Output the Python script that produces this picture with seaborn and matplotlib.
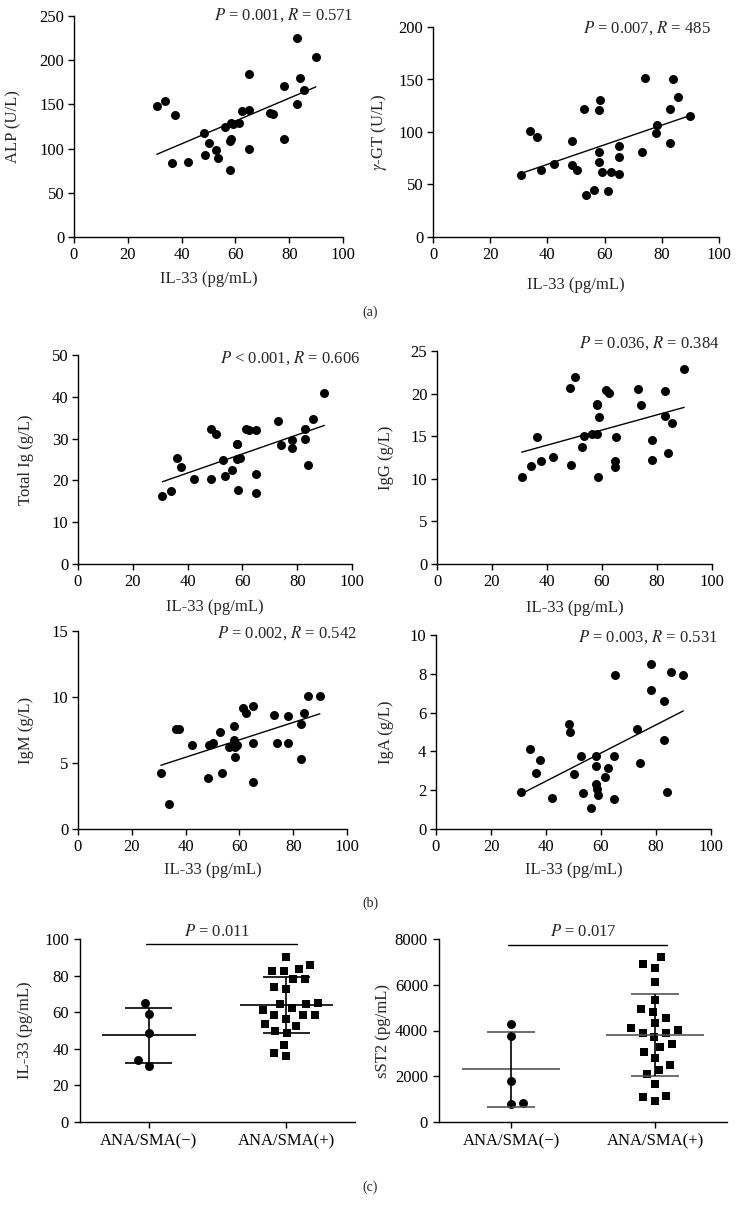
import numpy as np
import pandas as pd
import matplotlib
matplotlib.use('Agg')
from matplotlib import pyplot as plt
from matplotlib.path import Path
import seaborn as sns

# IL-33 (pg/mL), shared x for the scatter panels
il33 = [30.8, 34.0, 36.3, 37.7, 42.3, 48.5, 48.6, 50.2, 52.8, 53.6,
        56.2, 58.0, 58.0, 58.2, 58.5, 59.0, 61.3, 62.4, 64.9, 64.9,
        65.1, 73.0, 74.0, 78.1, 78.2, 82.8, 82.8, 83.9, 85.6, 89.9]

alp = [148.3, 154.4, 83.6, 138.2, 84.3, 117.1, 93.0, 106.6, 97.9, 88.9,
       124.2, 75.7, 108.1, 110.7, 129.5, 128.0, 129.5, 142.3, 184.5, 143.4,
       99.4, 140.1, 139.3, 110.7, 170.9, 225.5, 150.6, 179.6, 166.4, 204.1]
ggt = [58.7, 101.0, 94.9, 63.8, 69.2, 91.1, 68.6, 64.1, 121.9, 40.0,
       45.1, 121.0, 71.4, 81.3, 130.2, 62.2, 43.8, 62.2, 86.3, 76.2,
       60.3, 80.6, 151.7, 98.7, 106.7, 122.2, 89.5, 150.8, 133.7, 115.6]
total_ig = [16.3, 17.5, 25.3, 23.1, 20.4, 32.3, 20.4, 31.2, 24.8, 21.0,
            22.4, 28.8, 28.6, 25.1, 17.6, 25.4, 32.3, 32.0, 21.6, 17.1,
            32.1, 34.3, 28.5, 27.8, 29.6, 32.2, 29.8, 23.7, 34.8, 40.8]
igg = [10.25, 11.5, 14.9, 12.05, 12.5, 20.6, 11.6, 21.9, 13.7, 15.0,
       15.2, 18.8, 18.7, 15.2, 10.2, 17.3, 20.4, 20.1, 12.1, 11.4,
       14.9, 20.5, 18.7, 12.2, 14.5, 20.3, 17.4, 13.0, 16.6, 22.9]
igm = [4.26, 1.89, 7.54, 7.54, 6.38, 3.88, 6.38, 6.50, 7.36, 4.26,
       6.23, 7.81, 6.73, 6.23, 5.44, 6.35, 9.20, 8.80, 9.33, 6.50,
       3.58, 8.60, 6.50, 6.55, 8.55, 7.92, 5.29, 8.80, 10.11, 10.08]
iga = [1.92, 4.14, 2.90, 3.54, 1.62, 5.40, 4.98, 2.84, 3.75, 1.87,
       1.10, 3.25, 2.34, 3.75, 2.06, 1.74, 2.70, 3.14, 3.75, 1.53,
       7.96, 5.15, 3.38, 7.16, 8.52, 6.60, 4.60, 1.91, 8.11, 7.96]

# group comparison (panel c)
groups = ['ANA/SMA(\u2212)', 'ANA/SMA(+)']
il33_neg = [65.1, 58.9, 48.4, 33.8, 30.7]
il33_pos = [90.0, 85.6, 83.8, 82.7, 82.7, 78.1, 78.1, 73.7, 72.6, 64.4,
            64.4, 65.0, 61.1, 62.2, 58.2, 58.2, 58.6, 56.4, 53.5, 52.7,
            50.0, 48.4, 42.2, 37.8, 35.9]
sst2_neg = [4300, 3750, 1800, 800, 850]
sst2_pos = [7210, 6900, 6750, 6100, 5340, 4930, 4820, 4550, 4310, 4120,
            4030, 3900, 3900, 3710, 3400, 3260, 3050, 2790, 2480, 2290,
            2090, 1680, 1150, 1080, 900]

sns.set_style('ticks')
plt.rcParams['font.family'] = ['Liberation Serif', 'DejaVu Serif']
plt.rcParams['mathtext.fontset'] = 'stix'
plt.rcParams['axes.linewidth'] = 1.0
plt.rcParams['xtick.major.size'] = 4
plt.rcParams['ytick.major.size'] = 4
plt.rcParams['xtick.major.width'] = 1.0
plt.rcParams['ytick.major.width'] = 1.0
plt.rcParams['xtick.color'] = 'black'
plt.rcParams['ytick.color'] = 'black'
plt.rcParams['axes.edgecolor'] = 'black'

W, H = 741, 1206
fig = plt.figure(figsize=(W / 100, H / 100), dpi=100)
FS = 12


def padded_marker(shape, k=0.6):
    # marker drawn at k of its nominal size, so the swarm keeps gaps
    # between points like the column scatter in the source figure
    if shape == 'o':
        core = Path.circle((0, 0), k)
    else:
        core = Path([(-k, -k), (k, -k), (k, k), (-k, k), (-k, -k)],
                    [Path.MOVETO, Path.LINETO, Path.LINETO, Path.LINETO,
                     Path.CLOSEPOLY])
    pad = Path([(-1, -1), (1, 1)], [Path.MOVETO, Path.MOVETO])
    return Path.make_compound_path(core, pad)


def add_ax(l, r, t, b):
    return fig.add_axes([l / W, 1 - b / H, (r - l) / W, (b - t) / H])


def place_labels(ax, box, yoff, xoff=None):
    # put axis titles at fixed pixel distances from the spines, like the source
    wpx = box[1] - box[0]
    hpx = box[3] - box[2]
    ax.yaxis.set_label_coords(-yoff / wpx, 0.5)
    if xoff is not None:
        ax.xaxis.set_label_coords(0.5, -xoff / hpx)


def scatter_panel(box, y, ymax, ystep, ylabel, note, note_xy, yoff, xoff):
    ax = add_ax(*box)
    sns.regplot(x=il33, y=y, ax=ax, ci=None, truncate=True, color='black',
                scatter_kws=dict(s=42, linewidths=0, alpha=1),
                line_kws=dict(lw=1.0))
    ax.set_xlim(0, 100)
    ax.set_ylim(0, ymax)
    ax.set_xticks(np.arange(0, 101, 20))
    ax.set_yticks(np.arange(0, ymax + 0.01, ystep))
    ax.set_xlabel('IL-33 (pg/mL)', fontsize=FS)
    ax.set_ylabel(ylabel, fontsize=FS)
    ax.tick_params(labelsize=FS, pad=3)
    place_labels(ax, box, yoff, xoff)
    sns.despine(ax=ax)
    fig.text(note_xy[0] / W, 1 - note_xy[1] / H, note, ha='right', va='center',
             fontsize=FS)
    return ax


scatter_panel((74, 343, 16, 237), alp, 250, 50, 'ALP (U/L)',
              r'$P$ = 0.001, $R$ = 0.571', (353, 15), 53, 34)
scatter_panel((433, 719, 27, 237), ggt, 200, 50, r'$\gamma$-GT (U/L)',
              r'$P$ = 0.007, $R$ = 485', (711, 28), 44, 40)
scatter_panel((78, 352, 355, 564), total_ig, 50, 10, 'Total Ig (g/L)',
              r'$P$ < 0.001, $R$ = 0.606', (360, 358), 44, 35)
scatter_panel((437, 712, 351, 564), igg, 25, 5, 'IgG (g/L)',
              r'$P$ = 0.036, $R$ = 0.384', (720, 343), 43, 36)
scatter_panel((78, 347, 631, 829), igm, 15, 5, 'IgM (g/L)',
              r'$P$ = 0.002, $R$ = 0.542', (357, 633), 44, 33)
scatter_panel((436, 711, 635, 829), iga, 10, 2, 'IgA (g/L)',
              r'$P$ = 0.003, $R$ = 0.531', (718, 637), 42, 33)


def group_panel(box, neg, pos, ymax, ystep, ylabel, note, bar_y, line_color,
                yoff):
    ax = add_ax(*box)
    df_neg = pd.DataFrame({'group': groups[0], 'value': neg})
    df_pos = pd.DataFrame({'group': groups[1], 'value': pos})
    sns.swarmplot(data=df_neg, x='group', y='value', order=groups, ax=ax,
                  color='black', marker=padded_marker('o', 0.76), size=8.5,
                  linewidth=0)
    sns.swarmplot(data=df_pos, x='group', y='value', order=groups, ax=ax,
                  color='black', marker=padded_marker('s', 0.62), size=8.5,
                  linewidth=0)
    for i, vals in enumerate([neg, pos]):
        m = np.mean(vals)
        sd = np.std(vals, ddof=1)
        ax.hlines(m, i - 0.34, i + 0.34, color=line_color, lw=1.2, zorder=3)
        ax.hlines([m - sd, m + sd], i - 0.17, i + 0.17, color=line_color,
                  lw=1.2, zorder=3)
        ax.vlines(i, m - sd, m + sd, color='black', lw=1.2, zorder=3)
    ax.set_xlim(-0.5, 1.5)
    ax.set_ylim(0, ymax)
    ax.set_yticks(np.arange(0, ymax + 1, ystep))
    ax.set_xlabel('')
    ax.set_ylabel(ylabel, fontsize=FS)
    ax.tick_params(labelsize=FS, pad=4)
    place_labels(ax, box, yoff)
    ax.plot([-0.02, 1.08], [bar_y, bar_y], color='black', lw=1.0,
            clip_on=False)
    ax.text(0.5, bar_y + ymax * 0.025, note, ha='center', va='bottom',
            fontsize=FS)
    sns.despine(ax=ax)
    return ax


group_panel((80, 355, 939, 1122), il33_neg, il33_pos, 100, 20,
            'IL-33 (pg/mL)', r'$P$ = 0.011', 97, 'black', 47)
group_panel((439, 727, 939, 1122), sst2_neg, sst2_pos, 8000, 2000,
            'sST2 (pg/mL)', r'$P$ = 0.017', 7750, '#555555', 48)

for lab, yy in [('(a)', 312), ('(b)', 903), ('(c)', 1187)]:
    fig.text(370 / W, 1 - yy / H, lab, ha='center', va='center', fontsize=10)

fig.savefig('out.png', dpi=100)
